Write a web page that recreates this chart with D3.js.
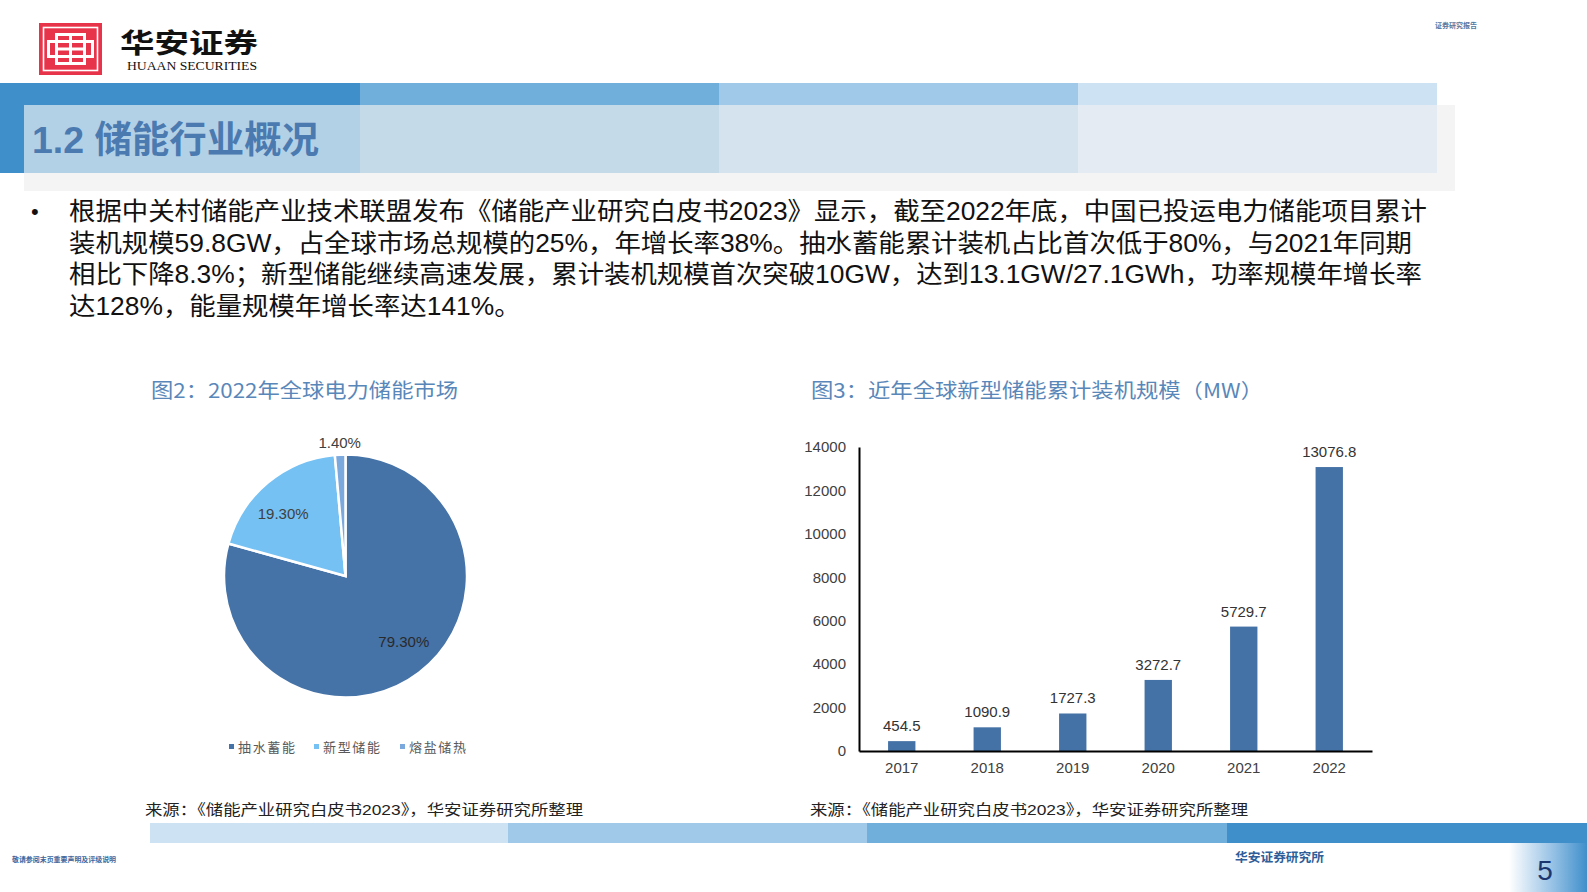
<!DOCTYPE html>
<html><head><meta charset="utf-8">
<script src="https://cdn.jsdelivr.net/npm/d3@7"></script>
<style>
html,body{margin:0;padding:0;background:#fff;}
svg{display:block;}
text{font-family:"Liberation Sans","Noto Sans CJK SC",sans-serif;}
</style></head>
<body>
<svg id="c" width="1587" height="892"></svg>
<script>
// ---------- data ----------
const pieLabels = ["抽水蓄能", "新型储能", "熔盐储热"];
const pieValues = [79.3, 19.3, 1.4];
const pieValueText = ["79.30%", "19.30%", "1.40%"];
const pieColors = ["#4572a7", "#75c1f3", "#7ba8dd"];

const years = ["2017", "2018", "2019", "2020", "2021", "2022"];
const capacity = [454.5, 1090.9, 1727.3, 3272.7, 5729.7, 13076.8];
const capacityText = ["454.5", "1090.9", "1727.3", "3272.7", "5729.7", "13076.8"];
const yTicks = [0, 2000, 4000, 6000, 8000, 10000, 12000, 14000];

const bodyLines = [
  "根据中关村储能产业技术联盟发布《储能产业研究白皮书2023》显示，截至2022年底，中国已投运电力储能项目累计",
  "装机规模59.8GW，占全球市场总规模的25%，年增长率38%。抽水蓄能累计装机占比首次低于80%，与2021年同期",
  "相比下降8.3%；新型储能继续高速发展，累计装机规模首次突破10GW，达到13.1GW/27.1GWh，功率规模年增长率",
  "达128%，能量规模年增长率达141%。"
];
const sourceText = "来源：《储能产业研究白皮书2023》，华安证券研究所整理";

const svg = d3.select("#c");

// ---------- header ----------
const bandColors = ["#3f8fcb", "#70afdb", "#a0c8e8", "#cde3f3"];
const overColors = ["#b3d1e6", "#c4dae8", "#d5e3ee", "#e4ebf2"];
const bandX = [0, 360, 719, 1078, 1437];
svg.append("rect").attr("x", 24).attr("y", 105).attr("width", 1431).attr("height", 86).attr("fill", "#f4f4f4");
bandColors.forEach((c, i) => {
  svg.append("rect").attr("x", bandX[i]).attr("y", 83).attr("width", bandX[i + 1] - bandX[i]).attr("height", 22).attr("fill", c);
  const x0 = Math.max(bandX[i], 24);
  svg.append("rect").attr("x", x0).attr("y", 105).attr("width", bandX[i + 1] - x0).attr("height", 68).attr("fill", overColors[i]);
});
svg.append("rect").attr("x", 0).attr("y", 83).attr("width", 24).attr("height", 90).attr("fill", "#3f8fcb");
svg.append("text").attr("x", 32).attr("y", 153)
  .attr("font-size", 37).attr("font-weight", "bold").attr("fill", "#4b7ab1")
  .attr("textLength", 287).attr("lengthAdjust", "spacingAndGlyphs")
  .style("font-family", "'Liberation Sans','Noto Sans CJK SC',sans-serif")
  .text("1.2 储能行业概况");

// logo
const logo = svg.append("g");
logo.append("rect").attr("x", 39).attr("y", 23).attr("width", 63).attr("height", 52).attr("fill", "#e8344a");
logo.append("rect").attr("x", 43.5).attr("y", 27.5).attr("width", 54).attr("height", 43).attr("fill", "none").attr("stroke", "#fff").attr("stroke-width", 1.6);
const lw = 3;
[[55, 33, 31, lw], [55, 47.5, 31, lw], [55, 62, 31, lw], [47, 40, 47, lw], [47, 55, 47, lw]].forEach(r =>
  logo.append("rect").attr("x", r[0]).attr("y", r[1]).attr("width", r[2]).attr("height", r[3]).attr("fill", "#fff"));
[[55, 33, lw, 32], [83, 33, lw, 32], [69, 33, lw, 32], [47, 40, lw, 18], [91, 40, lw, 18]].forEach(r =>
  logo.append("rect").attr("x", r[0]).attr("y", r[1]).attr("width", r[2]).attr("height", r[3]).attr("fill", "#fff"));
svg.append("text").attr("x", 120).attr("y", 53).attr("font-size", 27).attr("font-weight", "bold")
  .attr("fill", "#111").attr("textLength", 138).attr("lengthAdjust", "spacingAndGlyphs")
  .style("font-family", "'Noto Sans CJK SC',sans-serif").text("华安证券");
svg.append("text").attr("x", 127).attr("y", 70).attr("font-size", 11.5)
  .attr("fill", "#111").attr("textLength", 130).attr("lengthAdjust", "spacingAndGlyphs")
  .style("font-family", "'Liberation Serif',serif").text("HUAAN SECURITIES");
svg.append("text").attr("x", 1435).attr("y", 28).attr("font-size", 7).attr("font-weight", "bold")
  .attr("fill", "#5577a0").attr("textLength", 42).attr("lengthAdjust", "spacingAndGlyphs")
  .style("font-family", "'Noto Sans CJK SC',sans-serif").text("证券研究报告");

// ---------- body text ----------
svg.append("text").attr("x", 31).attr("y", 219).attr("font-size", 22).attr("fill", "#111").text("•");
const lineTargets = [1358, 1343, 1353, null];
const bodyG = svg.append("g");
let ratios = [];
bodyLines.forEach((t, i) => {
  const tx = bodyG.append("text").attr("x", 69).attr("y", 220 + i * 31.5)
    .attr("font-size", 25).attr("fill", "#111").text(t);
  const nat = tx.node().getComputedTextLength();
  if (lineTargets[i]) {
    ratios.push(lineTargets[i] / nat);
    tx.attr("textLength", lineTargets[i]).attr("lengthAdjust", "spacingAndGlyphs");
  } else {
    const r = d3.mean(ratios);
    tx.attr("textLength", nat * r).attr("lengthAdjust", "spacingAndGlyphs");
  }
});

// ---------- chart titles ----------
const titleStyle = (sel) => sel.attr("font-size", 20).attr("fill", "#5a87b9")
  .attr("lengthAdjust", "spacingAndGlyphs").style("font-family", "'Noto Sans CJK SC',sans-serif");
titleStyle(svg.append("text").attr("x", 151).attr("y", 398).attr("textLength", 307)).text("图2：2022年全球电力储能市场");
titleStyle(svg.append("text").attr("x", 811).attr("y", 398).attr("textLength", 452)).text("图3：近年全球新型储能累计装机规模（MW）");

// ---------- pie ----------
const cx = 345.5, cy = 576, R = 121.5;
const pie = d3.pie().sort(null).value(d => d)(pieValues);
const arc = d3.arc().innerRadius(0).outerRadius(R);
const pg = svg.append("g").attr("transform", `translate(${cx},${cy})`);
pg.selectAll("path").data(pie).join("path")
  .attr("d", arc).attr("fill", (d, i) => pieColors[i]).attr("stroke", "#fff").attr("stroke-width", 2.5);
const labelR = [88, 88, 133];
const labelShift = [[5, -4], [-6, 5], [0, 0]];
pg.selectAll("text.pl").data(pie).join("text").attr("class", "pl")
  .attr("transform", (d, i) => {
    const c = d3.arc().innerRadius(labelR[i]).outerRadius(labelR[i]).centroid(d);
    return `translate(${c[0] + labelShift[i][0]},${c[1] + labelShift[i][1]})`;
  })
  .attr("text-anchor", "middle").attr("dy", "0.35em")
  .attr("font-size", 15).attr("fill", (d, i) => i === 0 ? "#2a2a2a" : "#404040")
  .text((d, i) => pieValueText[i]);

// legend
const legX = [229, 314, 400];
pieLabels.forEach((l, i) => {
  svg.append("rect").attr("x", legX[i]).attr("y", 744).attr("width", 5).attr("height", 5).attr("fill", pieColors[i]);
  svg.append("text").attr("x", legX[i] + 9).attr("y", 752).attr("font-size", 13).attr("fill", "#595959")
    .attr("textLength", 57).attr("lengthAdjust", "spacing")
    .style("font-family", "'Noto Sans CJK SC',sans-serif").text(l);
});

// ---------- bar chart ----------
const x = d3.scaleBand().domain(years).range([859, 1372]).paddingInner(0.68).paddingOuter(0.34);
const y = d3.scaleLinear().domain([0, 14000]).range([751, 447]);
const bg = svg.append("g");
bg.selectAll("rect").data(capacity).join("rect")
  .attr("x", (d, i) => x(years[i])).attr("y", d => y(d))
  .attr("width", x.bandwidth()).attr("height", d => y(0) - y(d)).attr("fill", "#4572a6");
bg.selectAll("text.v").data(capacity).join("text").attr("class", "v")
  .attr("x", (d, i) => x(years[i]) + x.bandwidth() / 2).attr("y", d => y(d) - 10)
  .attr("text-anchor", "middle").attr("font-size", 15).attr("fill", "#333")
  .text((d, i) => capacityText[i]);

const yAxis = d3.axisLeft(y).tickValues(yTicks).tickSize(0).tickPadding(13).tickFormat(d3.format("d"));
const ya = svg.append("g").attr("transform", "translate(859,0)").call(yAxis);
ya.select(".domain").attr("stroke", "#000").attr("stroke-width", 2);
ya.selectAll("text").attr("font-size", 15).attr("fill", "#404040").style("font-family", "'Liberation Sans',sans-serif");
const xAxis = d3.axisBottom(x).tickSize(0).tickPadding(11);
const xa = svg.append("g").attr("transform", "translate(0,751)").call(xAxis);
xa.select(".domain").attr("stroke", "#000").attr("stroke-width", 2);
xa.selectAll("text").attr("font-size", 15).attr("fill", "#404040").style("font-family", "'Liberation Sans',sans-serif");

// ---------- sources ----------
[[145, 438], [810, 438]].forEach(p => {
  svg.append("text").attr("x", p[0]).attr("y", 815).attr("font-size", 15).attr("fill", "#222")
    .attr("textLength", p[1]).attr("lengthAdjust", "spacingAndGlyphs").text(sourceText);
});

// ---------- footer ----------
const fX = [150, 508, 867, 1227, 1587];
const fCols = ["#cde3f3", "#a0c8e8", "#70afdb", "#3f8fcb"];
fCols.forEach((c, i) => svg.append("rect").attr("x", fX[i]).attr("y", 823).attr("width", fX[i + 1] - fX[i]).attr("height", 20).attr("fill", c));
const defs = svg.append("defs");
const gr = defs.append("linearGradient").attr("id", "pg").attr("x1", "0").attr("x2", "1").attr("y1", "0").attr("y2", "0");
gr.append("stop").attr("offset", "0").attr("stop-color", "#ffffff");
gr.append("stop").attr("offset", "0.6").attr("stop-color", "#8fbde3");
gr.append("stop").attr("offset", "1").attr("stop-color", "#3f8fcb");
svg.append("rect").attr("x", 1509).attr("y", 843).attr("width", 78).attr("height", 49).attr("fill", "url(#pg)");
svg.append("text").attr("x", 1545).attr("y", 880).attr("text-anchor", "middle").attr("font-size", 28)
  .attr("fill", "#1c3770").text("5");
svg.append("text").attr("x", 1235).attr("y", 862).attr("font-size", 12.5).attr("font-weight", "bold")
  .attr("fill", "#2f5e98").attr("textLength", 89).attr("lengthAdjust", "spacingAndGlyphs")
  .style("font-family", "'Noto Sans CJK SC',sans-serif").text("华安证券研究所");
svg.append("text").attr("x", 12).attr("y", 862).attr("font-size", 7).attr("font-weight", "bold")
  .attr("fill", "#3a67a0").attr("textLength", 104).attr("lengthAdjust", "spacingAndGlyphs")
  .style("font-family", "'Noto Sans CJK SC',sans-serif").text("敬请参阅末页重要声明及评级说明");
</script>
</body></html>
